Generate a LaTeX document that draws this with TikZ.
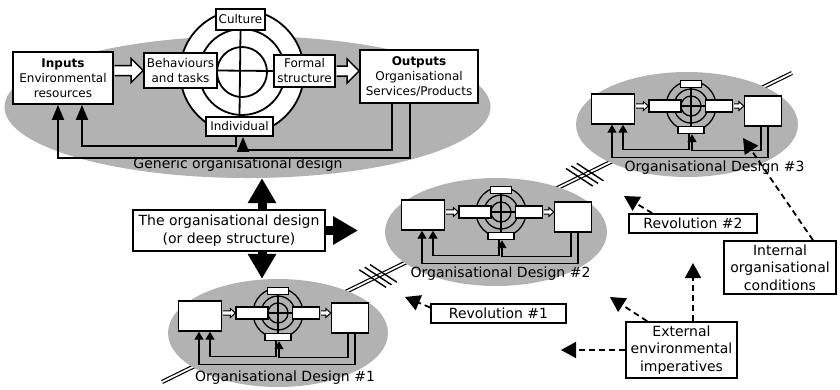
\documentclass[tikz,border=0pt]{standalone}
\usepackage{fontspec}
\setmainfont{DejaVu Sans}
\usetikzlibrary{arrows.meta,shapes.geometric,calc}
\definecolor{designgray}{RGB}{178,178,178}

% open block arrow from #2 to #3 (horizontal), half shaft #4, half head #5, head length #6
\newcommand\hollowarrow[6]{%
  \draw[#1] let \p1=(#2), \p2=(#3) in
    (\x1+0.8pt,\y1+#4) -- (\x2-#6,\y1+#4) -- (\x2-#6,\y1+#5) -- (\x2,\y1)
    -- (\x2-#6,\y1-#5) -- (\x2-#6,\y1-#4) -- (\x1+0.8pt,\y1-#4);}

\tikzset{
  designell/.style={ellipse, fill=designgray, draw=none, inner sep=0pt},
  bigbox/.style={draw, line width=1.8pt, fill=white, inner sep=0pt, align=center,
    font=\fontsize{12}{15}\selectfont},
  bigcirc/.style={draw, line width=1.8pt, fill=white},
  crossline/.style={line width=1.8pt},
  harrow/.style={draw, fill=white, line width=1.5pt},
  fbarrow/.style={line width=1.8pt, -{Triangle[length=15pt,width=12pt]}},
  minibox/.style={draw, line width=1.4pt, fill=white, inner sep=0pt},
  minicirc/.style={draw, line width=1.3pt},
  miniharrow/.style={draw, fill=white, line width=1pt},
  minifb/.style={line width=1.4pt, -{Triangle[length=8pt,width=9pt]}},
  textbox/.style={draw, line width=1.6pt, fill=white, inner sep=0pt, align=center,
    font=\fontsize{14}{17.5}\selectfont},
  caption/.style={inner sep=0pt, font=\fontsize{14}{17}\selectfont},
  bigarrow/.style={line width=9pt, -{Triangle[length=25pt,width=27pt]}},
  dasharrow/.style={line width=1.8pt, dash pattern=on 6pt off 4pt,
    -{Triangle[length=15pt,width=16pt]}},
  timeline/.style={double, double distance=1.8pt, line width=1.2pt},
  hatch/.style={line width=1.4pt},
  mini/.pic={
    \node[minibox, minimum width=43pt, minimum height=30pt] (in) at (-78,3) {};
    \node[minibox, minimum width=37pt, minimum height=30pt] (out) at (72,5) {};
    \draw[minicirc] (0,0) circle (25pt);
    \draw[minicirc] (0,0) circle (17pt);
    \draw[minicirc] (0,0) circle (10pt);
    \node[minibox, minimum width=32pt, minimum height=12pt] (beh) at (-26,0) {};
    \node[minibox, minimum width=27pt, minimum height=12pt] (frm) at (28,0) {};
    \node[minibox, minimum width=21pt, minimum height=7pt] (cul) at (0,-22) {};
    \node[minibox, minimum width=26pt, minimum height=7pt] (ind) at (0,24) {};
    \draw[line width=1.2pt] (cul.south) -- (ind.north);
    \draw[line width=1.2pt] (beh.east) -- (frm.west);
    \hollowarrow{miniharrow}{in.east |- beh.west}{beh.west}{2.2pt}{4.5pt}{5pt}
    \hollowarrow{miniharrow}{frm.east}{out.west |- frm.east}{2.2pt}{4.5pt}{5pt}
    \draw[minifb] ([xshift=-2pt]ind.south) -- ++(0,15.5) -| ([xshift=10pt]in.south);
    \draw[minifb] ([xshift=-2pt]out.south) -- ++(0,24) -| ([xshift=1pt]ind.south);
    \draw[minifb] ([xshift=5pt]out.south) -- ++(0,31) -| ([xshift=-1pt]in.south);
  }
}

\begin{document}
\begin{tikzpicture}[x=1pt,y=-1pt]
\useasboundingbox (0,0) rectangle (840,389);

% time line with revolution breaks
\coordinate (tl-a) at (162,382);
\coordinate (tl-b) at (792,73);
\draw[timeline] (tl-a) -- (tl-b);
\coordinate (brk1) at ($(tl-a)!0.343!(tl-b)$);
\coordinate (brk2) at ($(tl-a)!0.671!(tl-b)$);
\foreach \c in {brk1,brk2}
  \foreach \dx/\dy in {-5.4/2.6, 0/0, 5.4/-2.6}
    \draw[hatch, shift={(\c)}] (\dx-13.4,\dy-8.8) -- ++(26.8,17.6);

% grey design fields
\node[designell, minimum width=486pt, minimum height=142pt] (gen) at (247.5,107) {};
\node[designell, minimum width=220pt, minimum height=108pt] (e1) at (278,333) {};
\node[designell, minimum width=222pt, minimum height=108pt] (e2) at (496,232) {};
\node[designell, minimum width=222pt, minimum height=105pt] (e3) at (687,124.5) {};

% generic organisational design
\draw[bigcirc] (242,72) circle (62pt);
\draw[bigcirc] (242,72) circle (43pt);
\draw[bigcirc] (242,72) circle (25pt);
\node[bigbox, minimum width=100pt, minimum height=52pt] (inp) at (63,78)
  {\textbf{Inputs}\\Environmental\\resources};
\node[bigbox, minimum width=73pt, minimum height=35pt] (beh) at (180.5,70.5)
  {Behaviours\\and tasks};
\node[bigbox, minimum width=61pt, minimum height=32pt] (frm) at (304.5,71)
  {Formal\\structure};
\node[bigbox, minimum width=118pt, minimum height=53pt] (out) at (419,76.5)
  {\textbf{Outputs}\\Organisational\\Services/Products};
\node[bigbox, minimum width=49pt, minimum height=21pt] (cul) at (240.5,19.5) {Culture};
\node[bigbox, minimum width=67pt, minimum height=19pt] (ind) at (239.5,126.5) {Individual};
\draw[crossline] (cul.south) -- (ind.north);
\draw[crossline] (beh.east) -- (frm.west);
\hollowarrow{harrow}{inp.east |- beh.west}{beh.west}{5pt}{12pt}{12pt}
\hollowarrow{harrow}{frm.east}{out.west |- frm.east}{5pt}{12pt}{12pt}
\draw[fbarrow] ([xshift=-3.5pt]ind.south) -- ++(0,9) -| ([xshift=19pt]inp.south);
\draw[fbarrow] ([xshift=-27pt]out.south) -- ++(0,46) -| ([xshift=3.5pt]ind.south);
\draw[fbarrow] ([xshift=-9pt]out.south) -- ++(0,54) -| ([xshift=-5pt]inp.south);
\node[caption] (gen-lbl) at (238,165) {Generic organisational design};

% the three successive designs
\pic (d1) at (278,313) {mini};
\pic (d2) at (501,212) {mini};
\pic (d3) at (691,106) {mini};
\node[caption] (l1) at (285,378) {Organisational Design \#1};
\node[caption] (l2) at (500.5,274) {Organisational Design \#2};
\node[caption] (l3) at (714.5,168) {Organisational Design \#3};

% deep structure
\node[textbox, minimum width=192pt, minimum height=41pt] (deep) at (229,230.5)
  {The organisational design\\(or deep structure)};
\coordinate (deep-tip) at (358,230.5);
\draw[bigarrow] ([xshift=33pt]deep.north) -- ([xshift=33pt]deep.north |- gen.south);
\draw[bigarrow] ([xshift=33pt]deep.south) -- ([xshift=33pt]deep.south |- e1.north);
\draw[bigarrow] (deep.east) -- (deep-tip);

% revolutions and their drivers
\node[textbox, minimum width=135pt, minimum height=19pt] (rev1) at (498.5,313.5) {Revolution \#1};
\node[textbox, minimum width=128pt, minimum height=19pt] (rev2) at (693,223.5) {Revolution \#2};
\node[textbox, minimum width=112pt, minimum height=53pt] (intc) at (780,267.5)
  {Internal\\organisational\\conditions};
\node[textbox, minimum width=111pt, minimum height=56pt] (extc) at (681.5,350)
  {External\\environmental\\imperatives};

\coordinate (rev1-tip) at (405,297);
\coordinate (rev2-tip) at (624,196);
\coordinate (int-tip) at (743,138);
\coordinate (ext-tip1) at (693,263);
\coordinate (ext-tip2) at (610,297);
\coordinate (ext-tip3) at (561,350);
\draw[dasharrow] ([yshift=6pt]rev1.west) -- (rev1-tip);
\draw[dasharrow] ([xshift=24pt]rev2.north west) -- (rev2-tip);
\draw[dasharrow] ([xshift=33pt]intc.north) -- (int-tip);
\draw[dasharrow] ([xshift=11.5pt]extc.north) -- (ext-tip1);
\draw[dasharrow] ([xshift=22pt]extc.north west) -- (ext-tip2);
\draw[dasharrow] (extc.west) -- (ext-tip3);
\end{tikzpicture}
\end{document}
